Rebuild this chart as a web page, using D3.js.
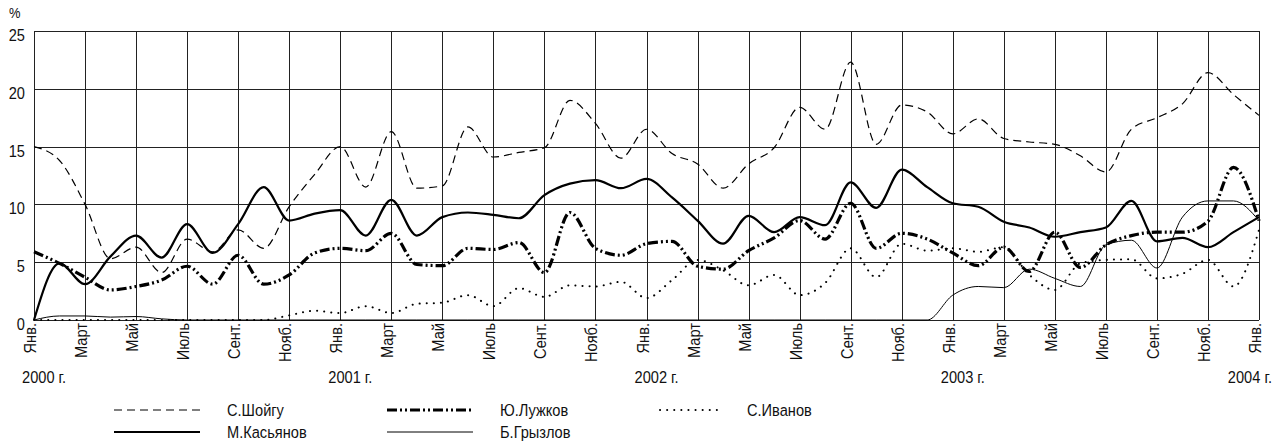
<!DOCTYPE html>
<html>
  <head>
    <meta charset="utf-8">
    <title>Рейтинги</title>
    <script src="https://d3js.org/d3.v7.min.js"></script>
    <style>
      body { margin: 0; background: #fff; }
      text { font-family: "Liberation Sans", Arial, sans-serif; fill: #111; }
    </style>
  </head>
  <body>
    <script>
      var width = 1280;
      var height = 443;

      // months: 0 = Jan 2000 ... 48 = Jan 2004
      var months = d3.range(0, 49);
      var monthLabels = ["Янв.", "Март", "Май", "Июль", "Сент.", "Нояб."];
      var yearLabels = ["2000 г.", "2001 г.", "2002 г.", "2003 г.", "2004 г."];
      var yTicks = [0, 5, 10, 15, 20, 25];

      var shoigu = [15.0, 13.8, 10.0, 5.3, 6.3, 4.1, 7.0, 5.9, 7.8, 6.2, 9.8, 12.6,
                    15.0, 11.5, 16.3, 11.4, 11.6, 16.7, 14.1, 14.5, 14.9, 19.0, 17.0, 14.0,
                    16.5, 14.4, 13.5, 11.4, 13.5, 14.9, 18.4, 16.5, 22.3, 15.2, 18.6, 18.0,
                    16.1, 17.4, 15.7, 15.4, 15.2, 14.2, 12.8, 16.5, 17.5, 18.7, 21.4, 19.5,
                    17.7];
      var kasyanov = [0, 4.9, 3.1, 5.5, 7.3, 5.4, 8.3, 5.8, 8.3, 11.5, 8.6, 9.2,
                      9.5, 7.3, 10.4, 7.3, 8.9, 9.3, 9.1, 8.8, 10.8, 11.8, 12.1, 11.4,
                      12.2, 10.6, 8.6, 6.6, 9.0, 7.6, 8.9, 8.2, 11.9, 9.7, 13.0, 11.5,
                      10.1, 9.8, 8.5, 8.0, 7.2, 7.6, 8.0, 10.3, 6.8, 7.1, 6.3, 7.6,
                      8.9];
      var luzhkov = [5.9, 4.9, 3.7, 2.6, 2.9, 3.45, 4.65, 3.1, 5.6, 3.1, 3.9, 5.8,
                     6.2, 6.0, 7.5, 4.8, 4.7, 6.2, 6.1, 6.7, 4.1, 9.3, 6.2, 5.6,
                     6.6, 6.8, 4.65, 4.4, 6.0, 7.1, 8.6, 7.0, 10.1, 6.2, 7.5, 7.0,
                     5.8, 4.7, 6.3, 4.2, 7.6, 4.55, 6.5, 7.3, 7.6, 7.6, 8.55, 13.2,
                     8.6];
      var ivanov = [0, 0, 0, 0, 0, 0, 0, 0, 0, 0, 0.4, 0.8,
                    0.6, 1.2, 0.6, 1.4, 1.5, 2.15, 1.2, 2.75, 2.0, 3.0, 2.9, 3.3,
                    1.9, 3.45, 5.2, 4.3, 3.0, 3.9, 2.15, 3.2, 6.2, 3.7, 6.6, 6.0,
                    6.2, 5.9, 6.3, 3.9, 2.6, 4.9, 5.2, 5.25, 3.6, 4.0, 5.2, 2.9,
                    7.8];
      var gryzlov = [0, 0.35, 0.35, 0.25, 0.3, 0.1, 0, 0, 0, 0, 0, 0,
                     0, 0, 0, 0, 0, 0, 0, 0, 0, 0, 0, 0,
                     0, 0, 0, 0, 0, 0, 0, 0, 0, 0, 0, 0,
                     2.15, 2.9, 2.8, 4.4, 3.6, 2.9, 6.5, 6.9, 4.5, 8.9, 10.3, 10.3,
                     8.6];

      var series = [
        {name: "С.Шойгу", values: shoigu, width: 1.2, dash: "8,5", cap: "butt"},
        {name: "М.Касьянов", values: kasyanov, width: 2.2, dash: null, cap: "butt"},
        {name: "Ю.Лужков", values: luzhkov, width: 3.2, dash: "10,3,2,3,2,3", cap: "butt"},
        {name: "С.Иванов", values: ivanov, width: 2, dash: "0.1,7", cap: "round"},
        {name: "Б.Грызлов", values: gryzlov, width: 1, dash: null, cap: "butt"}
      ];

      var plotLeft = 34, plotRight = 1259, plotTop = 31, plotBottom = 320;
      var narrow = " scale(0.86,1)"; // узкий шрифт

      var svg = d3.select("body").append("svg").attr("width", width).attr("height", height);

      var xScale = d3.scaleLinear().domain([0, 48]).range([plotLeft, plotRight]);
      var yScale = d3.scaleLinear().domain([0, 25]).range([plotBottom, plotTop]);

      // сетка
      var grid = svg.append("g").attr("stroke", "#222").attr("stroke-width", 1);
      grid.selectAll("line.h")
        .data(yTicks)
        .enter()
        .append("line")
        .attr("x1", plotLeft).attr("x2", plotRight)
        .attr("y1", (d) => Math.round(yScale(d)) + 0.5).attr("y2", (d) => Math.round(yScale(d)) + 0.5);
      grid.selectAll("line.v")
        .data(d3.range(0, 49, 2))
        .enter()
        .append("line")
        .attr("x1", (d) => Math.round(xScale(d)) + 0.5).attr("x2", (d) => Math.round(xScale(d)) + 0.5)
        .attr("y1", plotTop).attr("y2", plotBottom);

      // ось Y
      svg.append("g")
        .selectAll("text")
        .data(yTicks)
        .enter()
        .append("text")
        .attr("transform", (d) => "translate(25," + (yScale(d) + 10) + ")" + narrow)
        .attr("text-anchor", "end")
        .attr("font-size", 17)
        .text((d) => d);
      svg.append("text").attr("transform", "translate(9,18)" + narrow).attr("font-size", 15).text("%");

      // подписи месяцев
      svg.append("g")
        .selectAll("text")
        .data(d3.range(0, 49, 2))
        .enter()
        .append("text")
        .attr("transform", (d) => "translate(" + (xScale(d) + 2) + "," + 323 + ") rotate(-90)" + narrow)
        .attr("text-anchor", "end")
        .attr("font-size", 17)
        .text((d) => monthLabels[(d / 2) % 6]);

      // годы
      svg.append("g")
        .selectAll("text")
        .data(yearLabels)
        .enter()
        .append("text")
        .attr("transform", (d, i) => "translate(" + (i == 4 ? 1272 : xScale(i * 12) - 12) + ",383)" + narrow)
        .attr("text-anchor", (d, i) => i == 4 ? "end" : "start")
        .attr("font-size", 17)
        .text((d) => d);

      // линии
      var line = d3.line()
        .x((d, i) => xScale(months[i]))
        .y((d) => yScale(d))
        .curve(d3.curveMonotoneX);

      svg.append("g")
        .selectAll("path")
        .data(series)
        .enter()
        .append("path")
        .attr("d", (d) => line(d.values))
        .attr("fill", "none")
        .attr("stroke", "#000")
        .attr("stroke-width", (d) => d.width)
        .attr("stroke-dasharray", (d) => d.dash)
        .attr("stroke-linecap", (d) => d.cap);

      // легенда
      var legendPos = [
        {x: 114, y: 410, len: 86},
        {x: 114, y: 432, len: 86},
        {x: 387, y: 410, len: 86},
        {x: 660, y: 410, len: 60},
        {x: 387, y: 432, len: 86}
      ];
      var legend = svg.append("g")
        .selectAll("g")
        .data(series)
        .enter()
        .append("g")
        .attr("transform", (d, i) => "translate(" + legendPos[i].x + "," + legendPos[i].y + ")");
      legend.append("line")
        .attr("x1", 0)
        .attr("x2", (d, i) => legendPos[i].len)
        .attr("stroke", "#000")
        .attr("stroke-width", (d) => d.width)
        .attr("stroke-dasharray", (d) => d.dash)
        .attr("stroke-linecap", (d) => d.cap);
      legend.append("text")
        .attr("transform", (d, i) => "translate(" + (legendPos[i].len + 27) + ",6)" + narrow)
        .attr("font-size", 17)
        .text((d) => d.name);
    </script>
  </body>
</html>
